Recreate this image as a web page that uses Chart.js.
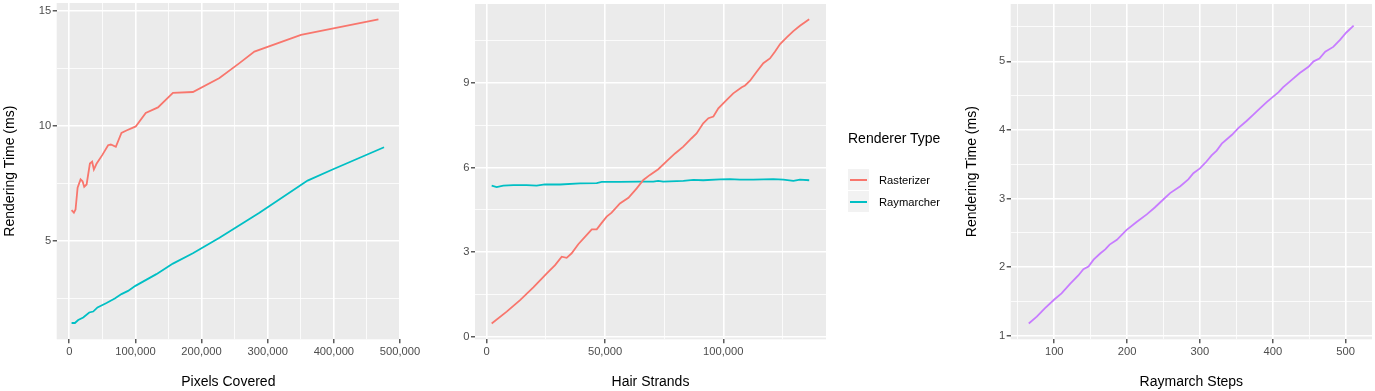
<!DOCTYPE html>
<html lang="en">
<head>
<meta charset="UTF-8">
<title>Rendering Time by Renderer</title>
<script src="https://cdn.jsdelivr.net/npm/chart.js"></script>
<style>
  body { margin: 0; width: 1375px; height: 391px; overflow: hidden; background: #fff; position: relative;
         font-family: "Liberation Sans", Arial, Helvetica, sans-serif; }
  canvas { position: absolute; top: -20px; }
  .lg-title { position: absolute; left: 848px; top: 130px; font-size: 14px; line-height: 16px; color: #000; }
  .lg-key { position: absolute; left: 848px; width: 21px; height: 21.5px; background: #f2f2f2; }
  .lg-key span { position: absolute; left: 2px; top: 10px; width: 17px; height: 2px; }
  .lg-label { position: absolute; left: 879px; font-size: 11.2px; line-height: 14px; color: #000; }
</style>
</head>
<body>
<canvas id="pixels" width="425" height="411" style="left:0px"></canvas>
<canvas id="strands" width="430" height="411" style="left:420px"></canvas>
<canvas id="steps" width="413" height="411" style="left:962px"></canvas>

<div class="lg-title">Renderer Type</div>
<div class="lg-key" style="top:168.5px"><span style="background:#F8766D"></span></div>
<div class="lg-key" style="top:190.5px"><span style="background:#00BFC4"></span></div>
<div class="lg-label" style="top:173px">Rasterizer</div>
<div class="lg-label" style="top:195px">Raymarcher</div>

<script>
// --- panel 1: pixels covered ---
const pixRasterX = [3500, 7000, 9500, 12600, 17100, 20100, 22600, 26200, 31200, 34600, 37200, 41200, 50300, 58700, 62800, 70400, 78900, 86400, 100500, 115600, 134100, 156700, 186900, 227100, 257300, 279900, 350300, 467400];
const pixRasterY = [6.33, 6.22, 6.36, 7.31, 7.67, 7.59, 7.35, 7.45, 8.36, 8.44, 8.10, 8.35, 8.75, 9.16, 9.19, 9.09, 9.70, 9.80, 9.98, 10.57, 10.81, 11.44, 11.48, 12.09, 12.74, 13.24, 13.97, 14.65];
const pixRayX = [3500, 8500, 13500, 21100, 30200, 36200, 42700, 56300, 68800, 78900, 88900, 100000, 131700, 156700, 186900, 227100, 287500, 360300, 398000, 475900];
const pixRayY = [1.41, 1.41, 1.54, 1.65, 1.87, 1.91, 2.09, 2.28, 2.48, 2.67, 2.81, 3.03, 3.54, 4.00, 4.45, 5.13, 6.22, 7.62, 8.10, 9.07];

// --- panel 2: hair strands ---
const hairRasterX = [2100, 8450, 14100, 19700, 25400, 28900, 31700, 33800, 35900, 38700, 42300, 44400, 46500, 48600, 50700, 52800, 56300, 59900, 63400, 66200, 69000, 72500, 76100, 79600, 83100, 86600, 88700, 91500, 93700, 95800, 97900, 100700, 104200, 107800, 109200, 111300, 114100, 116900, 119700, 121800, 124000, 126800, 129600, 132400, 136300];
const hairRasterY = [0.47, 0.89, 1.30, 1.75, 2.25, 2.54, 2.84, 2.80, 2.96, 3.28, 3.61, 3.81, 3.81, 4.04, 4.26, 4.40, 4.73, 4.93, 5.26, 5.56, 5.74, 5.94, 6.23, 6.50, 6.74, 7.04, 7.21, 7.57, 7.75, 7.81, 8.10, 8.34, 8.63, 8.85, 8.91, 9.08, 9.40, 9.70, 9.87, 10.11, 10.38, 10.62, 10.84, 11.03, 11.26];
const hairRayX = [2100, 4200, 7000, 11300, 16900, 21100, 24600, 31000, 39400, 46500, 48600, 56300, 64800, 70400, 72500, 74600, 83100, 87300, 91500, 98600, 102800, 107000, 112700, 121100, 125400, 129600, 132400, 136300];
const hairRayY = [5.36, 5.31, 5.36, 5.38, 5.38, 5.36, 5.40, 5.40, 5.44, 5.45, 5.49, 5.49, 5.50, 5.50, 5.53, 5.50, 5.53, 5.56, 5.55, 5.58, 5.59, 5.57, 5.57, 5.59, 5.57, 5.53, 5.57, 5.55];

// --- panel 3: raymarch steps ---
const stepsX = [65, 76, 87, 100, 110, 122, 133, 140, 147, 154, 163, 170, 176, 186, 199, 213, 227, 238, 250, 259, 273, 284, 291, 300, 309, 316, 323, 330, 344, 353, 364, 373, 382, 392, 401, 408, 414, 426, 437, 449, 456, 464, 472, 483, 492, 501, 511];
const stepsY = [1.18, 1.28, 1.40, 1.53, 1.62, 1.76, 1.88, 1.97, 2.01, 2.11, 2.20, 2.26, 2.33, 2.40, 2.54, 2.66, 2.77, 2.87, 2.99, 3.08, 3.18, 3.28, 3.37, 3.44, 3.54, 3.63, 3.70, 3.80, 3.93, 4.03, 4.13, 4.22, 4.31, 4.41, 4.49, 4.55, 4.62, 4.73, 4.83, 4.92, 5.00, 5.04, 5.14, 5.21, 5.31, 5.42, 5.52];

const RED = '#F8766D', CYAN = '#00BFC4', PURPLE = '#C77CFF';
const FONT = '"Liberation Sans", Arial, Helvetica, sans-serif';

function pts(xs, ys) {
  return xs.map((x, i) => ({ x: x, y: ys[i] }));
}

// grey panel behind the grid
const panelBg = {
  id: 'panelBg',
  beforeDraw(chart) {
    const a = chart.chartArea, ctx = chart.ctx;
    ctx.save();
    ctx.fillStyle = '#EBEBEB';
    ctx.fillRect(a.left, a.top, a.right - a.left, a.bottom - a.top);
    ctx.restore();
  }
};

function axis(o) {
  const isMajor = v => o.major.includes(v);
  return {
    type: 'linear',
    position: o.position,
    min: o.min,
    max: o.max,
    afterBuildTicks: s => { s.ticks = o.ticks.map(v => ({ value: v })); },
    afterFit: s => { if (o.position === 'bottom') s.height = o.size; else s.width = o.size; },
    border: { display: false },
    grid: {
      color: '#FFFFFF',
      lineWidth: c => isMajor(c.tick.value) ? 1.6 : 0.8,
      drawTicks: true,
      tickLength: 4,
      tickWidth: 1.2,
      tickColor: c => isMajor(c.tick.value) ? '#333333' : 'rgba(0,0,0,0)'
    },
    ticks: {
      autoSkip: false,
      maxRotation: 0,
      padding: o.position === 'bottom' ? 2 : 1.5,
      color: '#4D4D4D',
      font: { family: FONT, size: 11.2 },
      callback: v => isMajor(v) ? v.toLocaleString('en-US') : ''
    },
    title: {
      display: !!o.title,
      text: o.title,
      color: '#000000',
      font: { family: FONT, size: 14 },
      padding: o.position === 'bottom' ? { top: 0, bottom: 0 } : { top: 2, bottom: 0 }
    }
  };
}

function panel(id, datasets, xo, yo, pad) {
  new Chart(document.getElementById(id), {
    type: 'line',
    data: {
      datasets: datasets.map(d => ({
        data: d.data,
        borderColor: d.color,
        borderWidth: 1.8,
        pointRadius: 0,
        tension: 0,
        fill: false
      }))
    },
    options: {
      responsive: false,
      animation: false,
      parsing: true,
      layout: { padding: pad },
      plugins: { legend: { display: false }, tooltip: { enabled: false } },
      scales: {
        x: axis(Object.assign({ position: 'bottom', size: 51.7 }, xo)),
        y: axis(Object.assign({ position: 'left' }, yo))
      }
    },
    plugins: [panelBg]
  });
}

panel('pixels',
  [{ data: pts(pixRasterX, pixRasterY), color: RED }, { data: pts(pixRayX, pixRayY), color: CYAN }],
  { min: -19000, max: 500000, title: 'Pixels Covered',
    ticks: [0, 50000, 100000, 150000, 200000, 250000, 300000, 350000, 400000, 450000, 500000],
    major: [0, 100000, 200000, 300000, 400000, 500000] },
  { min: 0.70, max: 15.36, title: 'Rendering Time (ms)', size: 56.7,
    ticks: [2.5, 5, 7.5, 10, 12.5, 15], major: [5, 10, 15] },
  { top: 23, right: 25, left: 0, bottom: 0 });

panel('strands',
  [{ data: pts(hairRasterX, hairRasterY), color: RED }, { data: pts(hairRayX, hairRayY), color: CYAN }],
  { min: -4950, max: 143400, title: 'Hair Strands',
    ticks: [0, 25000, 50000, 75000, 100000, 125000], major: [0, 50000, 100000] },
  { min: -0.09, max: 11.8, title: '', size: 55,
    ticks: [0, 1.5, 3, 4.5, 6, 7.5, 9, 10.5], major: [0, 3, 6, 9] },
  { top: 24, right: 24, left: 0, bottom: 0 });

panel('steps',
  [{ data: pts(stepsX, stepsY), color: PURPLE }],
  { min: 40.2, max: 536.2, title: 'Raymarch Steps',
    ticks: [50, 100, 150, 200, 250, 300, 350, 400, 450, 500], major: [100, 200, 300, 400, 500] },
  { min: 0.95, max: 5.835, title: 'Rendering Time (ms)', size: 48.7,
    ticks: [1, 1.5, 2, 2.5, 3, 3.5, 4, 4.5, 5, 5.5], major: [1, 2, 3, 4, 5] },
  { top: 24, right: 3, left: 0, bottom: 0 });
</script>
</body>
</html>
